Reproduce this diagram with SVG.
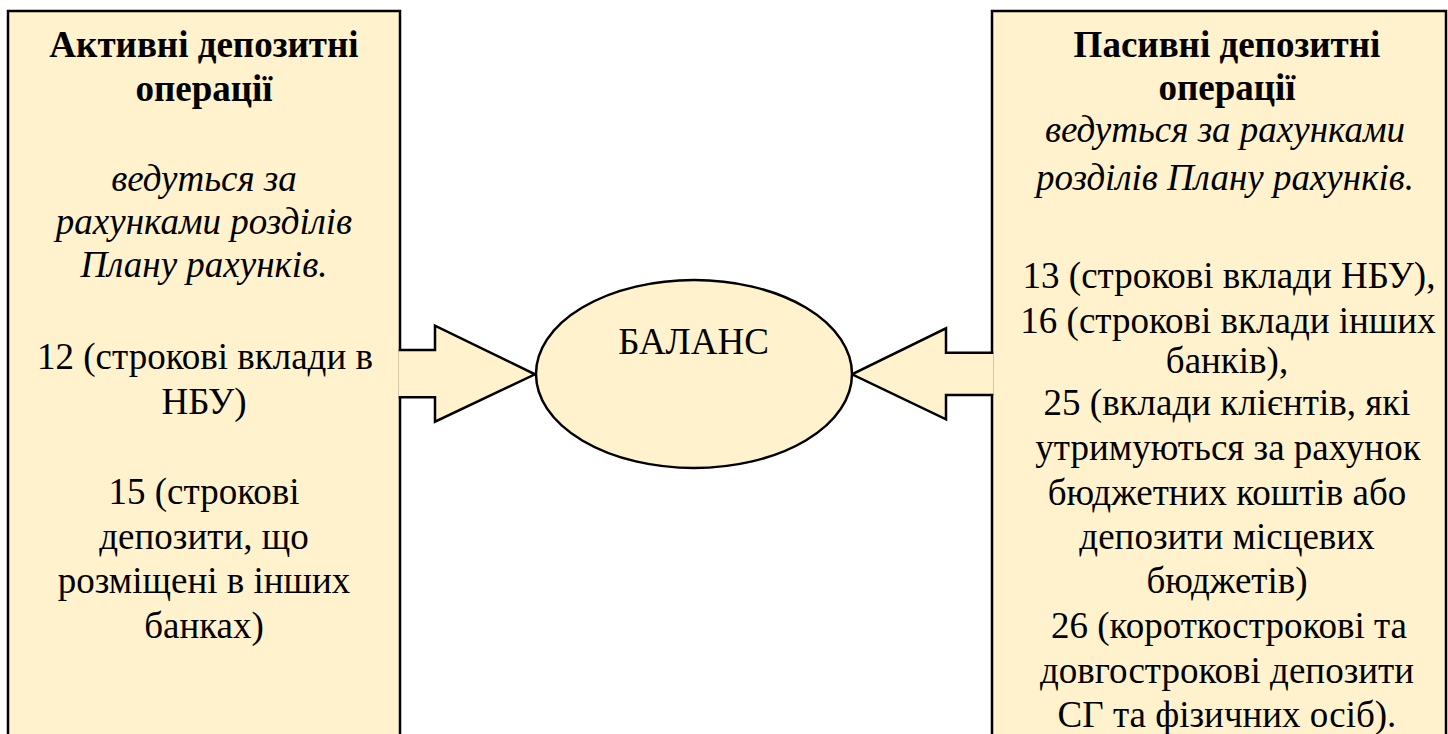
<svg xmlns="http://www.w3.org/2000/svg" width="1448" height="734" viewBox="0 0 1448 734">
  <style>
    .box { fill: #FFF2CC; stroke: #000; stroke-width: 2.5; }
    .arrow { fill: #FFF2CC; stroke: #000; stroke-width: 2.5; stroke-linejoin: miter; }
    text { font-family: "Liberation Serif", "Times New Roman", serif; font-size: 37px; fill: #000; text-anchor: middle; }
    .b { font-weight: bold; }
    .i { font-style: italic; }
  </style>
  <rect width="1448" height="734" fill="#fff"/>
  <g id="left-box">
    <rect class="box" x="8" y="11" width="392" height="760"/>
    <text class="b" x="204" y="57">Активні депозитні</text>
    <text class="b" x="204" y="101">операції</text>
    <text class="i" x="204" y="191">ведуться за</text>
    <text class="i" x="204" y="234">рахунками розділів</text>
    <text class="i" x="204" y="277">Плану рахунків.</text>
    <text x="205" y="369">12 (строкові вклади в</text>
    <text x="204" y="414">НБУ)</text>
    <text x="204" y="504">15 (строкові</text>
    <text x="204" y="549">депозити, що</text>
    <text x="204" y="593">розміщені в інших</text>
    <text x="204" y="638">банках)</text>
  </g>
  <g id="right-box">
    <rect class="box" x="992" y="11" width="454" height="760"/>
    <text class="b" x="1227" y="57">Пасивні депозитні</text>
    <text class="b" x="1227" y="100">операції</text>
    <text class="i" x="1225" y="142">ведуться за рахунками</text>
    <text class="i" x="1225" y="190">розділів Плану рахунків.</text>
    <text x="1229" y="288">13 (строкові вклади НБУ),</text>
    <text x="1228" y="333">16 (строкові вклади інших</text>
    <text x="1227" y="373">банків),</text>
    <text x="1227" y="415">25 (вклади клієнтів, які</text>
    <text x="1228" y="460">утримуються за рахунок</text>
    <text x="1227" y="505">бюджетних коштів або</text>
    <text x="1227" y="549">депозити місцевих</text>
    <text x="1227" y="593">бюджетів)</text>
    <text x="1229" y="638">26 (короткострокові та</text>
    <text x="1227" y="683">довгострокові депозити</text>
    <text x="1227" y="727">СГ та фізичних осіб).</text>
  </g>
  <g id="connectors">
    <path class="arrow" d="M398.7,350 L435,350 L435,325.7 L535,374.3 L435,421.7 L435,397.3 L398.7,397.3"/>
    <path class="arrow" d="M993.3,352.7 L946,352.7 L946,328.3 L852,374.3 L946,419.3 L946,395 L993.3,395"/>
  </g>
  <g id="balance">
    <ellipse class="box" cx="694" cy="374" rx="158" ry="94"/>
    <text x="693.5" y="354">БАЛАНС</text>
  </g>
</svg>
